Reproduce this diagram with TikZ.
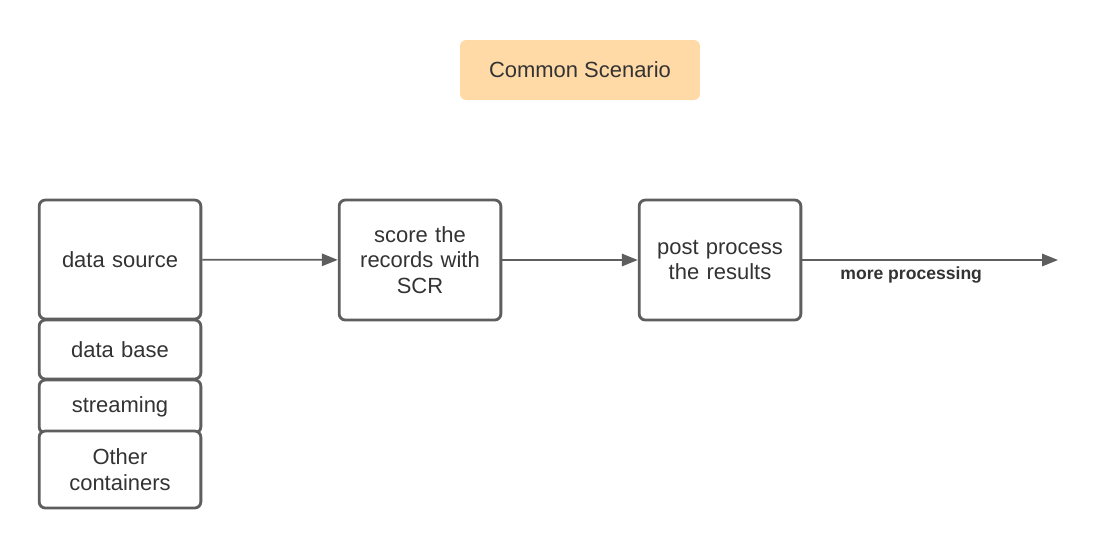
\documentclass[tikz,border=0pt]{standalone}
\usepackage{fontspec}
\setmainfont{Liberation Sans}
\usetikzlibrary{arrows.meta}

\definecolor{linegray}{HTML}{5E5E5E}
\definecolor{textgray}{HTML}{333333}
\definecolor{titlefill}{HTML}{FFDAA6}

\tikzset{
	box/.style={draw=linegray, line width=1.6pt, rounded corners=3.5pt, fill=white,
		minimum width=3.2cm, text width=3cm, align=center, text=textgray,
		font=\fontsize{12.5}{14.7}\selectfont},
	flow/.style={-{Triangle[length=9pt,width=7pt]}, draw=linegray, line width=1pt},
}

\begin{document}
\begin{tikzpicture}[x=0.02cm, y=-0.02cm]
		\useasboundingbox (0, 0) rectangle (1097, 549);

		\node[fill=titlefill, rounded corners=3.5pt, minimum width=4.8cm, minimum height=1.2cm,
			text=textgray, font=\fontsize{12.5}{14.7}\selectfont] (title) at (580, 70) {Common Scenario};

		\node[box, minimum height=2.38cm] (src) at (120, 259.5) {data source};
		\node[box, minimum height=1.18cm] (db) at (120, 349.5) {data base};
		\node[box, minimum height=1.06cm] (stream) at (120, 406.5) {streaming};
		\node[box, minimum height=1.54cm] (other) at (120, 469.5) {Other\\containers};

		\node[box, minimum height=2.4cm] (score) at (420, 260) {score the\\records with\\SCR};
		\node[box, minimum height=2.4cm] (post) at (720, 260) {post process\\the results};
		\coordinate (end) at (1058, 260);

		\draw[flow] (src) -- (score);
		\draw[flow] (score) -- (post);
		\draw[flow] (post) -- node[below, pos=0.426, text=textgray, font=\fontsize{10}{12}\selectfont\bfseries] {more processing} (end);
	\end{tikzpicture}
\end{document}
